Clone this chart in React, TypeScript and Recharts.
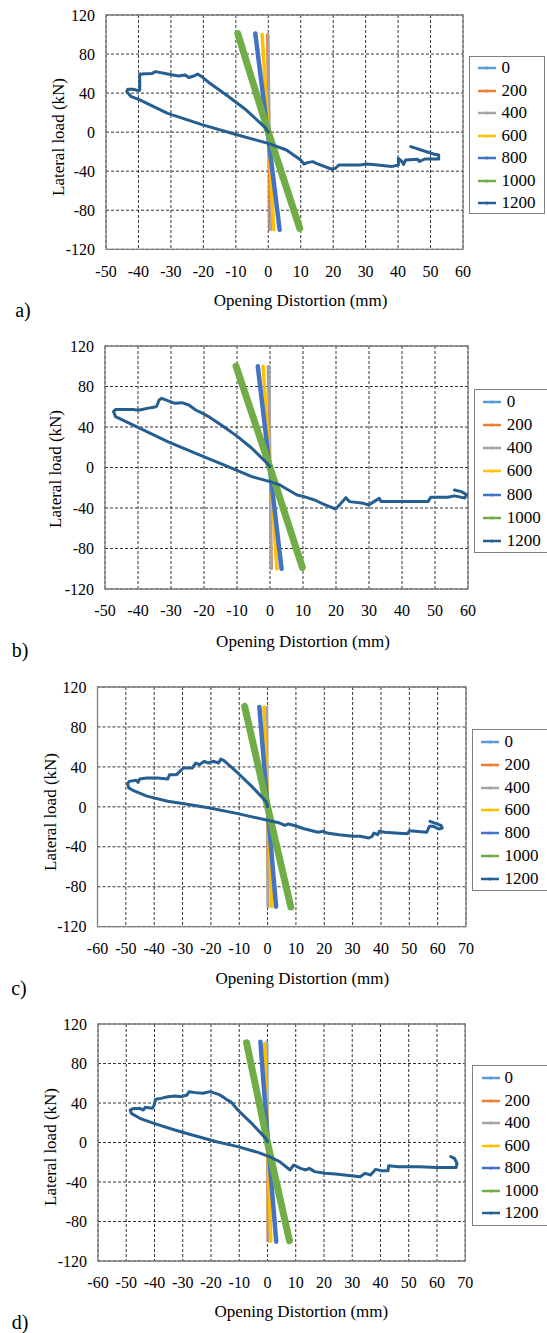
import React from 'react';
import { LineChart, Line, XAxis, YAxis, CartesianGrid, ReferenceArea } from 'recharts';

type P = [number, number];

const SERIES_NAMES = ['0', '200', '400', '600', '800', '1000', '1200'];
const SERIES_COLORS = ['#5B9BD5', '#ED7D31', '#A5A5A5', '#FFC000', '#4472C4', '#70AD47', '#255E91'];
const SERIES_WIDTHS = [2, 2, 2.5, 3.5, 4.5, 7, 3];

const X_TICKS_AB = [-50, -40, -30, -20, -10, 0, 10, 20, 30, 40, 50, 60];
const X_TICKS_CD = [-60, -50, -40, -30, -20, -10, 0, 10, 20, 30, 40, 50, 60, 70];
const Y_TICKS = [-120, -80, -40, 0, 40, 80, 120];

const A_0: P[] = [[0, 100], [0.1, 0], [0.2, -100]];
const A_200: P[] = [[-0.4, 100], [0, 0], [0.4, -100]];
const A_400: P[] = [[0, 100], [0.4, 0], [1.0, -100]];
const A_600: P[] = [[-1.9, 100], [0, 0], [1.7, -100]];
const A_800: P[] = [[-4, 101], [-0.2, 0], [3.5, -100]];
const A_1000: P[] = [[-9.4, 101], [0, 0], [9.7, -98.5]];
const A_1200: P[] = [
  [0, 0], [-1, 5], [-7.3, 24], [-12.7, 37.6], [-18, 50], [-20.2, 56.2], [-21.8, 59.6],
  [-22.9, 57.5], [-24.5, 56], [-25.6, 58.5], [-27.7, 57.5], [-31, 59.6], [-34.7, 62],
  [-35.8, 60.2], [-39, 59.6], [-39.6, 59.6], [-39.6, 43], [-40, 42.5], [-41.7, 44],
  [-43.3, 44], [-43.6, 41.5], [-42.2, 36.3], [-39.6, 33], [-31, 19.3], [-20.2, 7.4],
  [-9.4, -2.9], [0, -11.5], [5.6, -18.3], [10, -28.6], [11, -32.6], [12.1, -31.2],
  [13.7, -30.2], [14.8, -32], [19.6, -38], [20.7, -37], [21.8, -33.6], [25, -33.6],
  [28.3, -33.6], [30.4, -32.6], [33.7, -33.6], [38, -35.3], [40.1, -33.6], [40.1, -26.8],
  [41.2, -30.2], [41.7, -33], [42.3, -28.6], [46, -27.8], [46.6, -30], [48.2, -27.5],
  [52.5, -27.5], [52.5, -23.4], [50.9, -22.4], [43.9, -14.9],
];

const B_0: P[] = [[-0.2, 100], [0, 0], [0.2, -100]];
const B_200: P[] = [[-0.7, 100], [0, 0], [0.6, -100]];
const B_400: P[] = [[-0.3, 100], [0.1, 0], [0.4, -100]];
const B_600: P[] = [[-2.1, 100], [0, 0], [2.1, -100]];
const B_800: P[] = [[-3.7, 100], [-0.1, 0], [3.5, -100]];
const B_1000: P[] = [[-10.3, 100.2], [0, 0], [9.8, -98.6]];
const B_1200: P[] = [
  [0, 0.8], [-0.8, 4], [-5.5, 19], [-9.8, 30.5], [-14, 40.3], [-18.2, 49.5], [-20.4, 53.5],
  [-22.5, 56.8], [-24.6, 61.7], [-26.7, 64], [-28.8, 63.4], [-31, 66], [-32.8, 68.3],
  [-33.6, 66.7], [-34.3, 60.7], [-35.2, 59.4], [-37.3, 58.4], [-39.4, 56.8], [-40.5, 56.8],
  [-41.5, 57.4], [-43.6, 57.4], [-46.8, 57.4], [-47.4, 55.2], [-46.8, 50.2], [-39.4, 38.7],
  [-31, 25.5], [-22.5, 14], [-14, 2.5], [-5.5, -9], [0, -14], [3, -17.3], [8.2, -27.2],
  [10.3, -28.8], [13.5, -32.1], [16.7, -37], [19.9, -41], [21.5, -35.4], [23, -29.8],
  [24.1, -33.7], [28.3, -35.4], [29.9, -37], [31.5, -33.7], [33.1, -30.5], [33.7, -33.7],
  [37.9, -33.7], [43.2, -33.7], [47.9, -33.7], [48.7, -29.3], [53.8, -29.3], [55.9, -28],
  [59, -30.2], [59.6, -27], [58, -23.8], [55.9, -22.2],
];

const C_0: P[] = [[-0.3, 100], [-0.1, 0], [0, -100]];
const C_200: P[] = [[-0.5, 100], [-0.2, 0], [0.1, -100]];
const C_400: P[] = [[-0.2, 100], [0, 0], [0.3, -100]];
const C_600: P[] = [[-1.3, 100], [0.1, 0], [1.5, -100]];
const C_800: P[] = [[-2.9, 100], [0, 0], [3, -100]];
const C_1000: P[] = [[-8.1, 100.6], [0, 0], [8.2, -100.3]];
const C_1200: P[] = [
  [0, 0.2], [-0.4, 5], [-5.6, 20.5], [-10.5, 33.9], [-15.5, 46.6], [-16.5, 47.9],
  [-17.3, 43.9], [-19.2, 45.6], [-21, 43.9], [-22.3, 45.6], [-24.1, 42.2], [-25.3, 43.9],
  [-26.6, 38.9], [-29.7, 38.9], [-30.9, 35.6], [-32.1, 32.2], [-34.6, 32.2], [-35.2, 27.9],
  [-38.9, 28.9], [-42.6, 28.9], [-45.1, 27.9], [-45.7, 24.5], [-46.3, 26.6], [-48.8, 25.5],
  [-49.4, 23.3], [-49, 19], [-47.5, 16.6], [-42.6, 10.7], [-35.2, 5.6], [-27.8, 2.3],
  [-20.4, -1.1], [-10.5, -6.8], [0, -13.5], [4.3, -16.2], [6.1, -18.5], [7.3, -17.2],
  [9.8, -18.9], [12.9, -21.9], [17.8, -25.5], [19.7, -24.5], [20.9, -26.2], [25.2, -27.9],
  [30.2, -29.5], [32.6, -29.5], [35.7, -31.2], [36.9, -29.5], [37.5, -26.2], [38.8, -27.9],
  [39.4, -24.5], [41.3, -25.5], [45, -26.2], [49.3, -26.9], [50.1, -23.9], [56.1, -25.5],
  [57.1, -19.5], [58.5, -19.5], [60.4, -22.2], [61.6, -21.2], [61.2, -18.5], [57.3, -14.5],
];

const D_0: P[] = [[0, 100], [0, 0], [0.1, -100]];
const D_200: P[] = [[-0.3, 100], [-0.1, 0], [0, -100]];
const D_400: P[] = [[-0.3, 102], [0.1, 0], [0.6, -100]];
const D_600: P[] = [[-1, 100], [0.1, 0], [1.2, -100]];
const D_800: P[] = [[-2.5, 102], [0.2, 0], [3.1, -100.4]];
const D_1000: P[] = [[-7.4, 101], [0, 0], [7.8, -99.4]];
const D_1200: P[] = [
  [0, 0.8], [-0.6, 4.2], [-5.6, 19.4], [-10.5, 32.9], [-13, 41.4], [-14.2, 43], [-15.5, 45.7],
  [-17.3, 48.8], [-19.2, 50.5], [-20.4, 51.5], [-22.9, 49.8], [-25.4, 50.5], [-27.8, 51.5],
  [-28.5, 48.1], [-30.3, 46.4], [-32.8, 47.1], [-35.3, 46.4], [-37.7, 44.7], [-39.6, 43.7],
  [-40.2, 37], [-40.8, 34.6], [-43.3, 35.6], [-43.9, 32.9], [-45.2, 34.6], [-47.6, 34.3],
  [-48.6, 32.9], [-48.2, 29.5], [-45.2, 24.5], [-40.2, 19.4], [-32.8, 12.7], [-25.4, 6.6],
  [-18, 0.8], [-10.5, -4.2], [-3.1, -10.3], [0.6, -14.3], [4.3, -19.4], [8, -27.8],
  [9.3, -22.8], [11.7, -26.2], [13.6, -27.8], [14.8, -26.2], [16.7, -29.5], [20.4, -31.2],
  [24.1, -31.9], [30.3, -33.9], [32.8, -34.6], [34.6, -31.2], [36.5, -32.9], [38.3, -27.2],
  [40.2, -28.5], [42.7, -28.5], [42.9, -23.5], [46.4, -24.5], [53.8, -24.5], [60, -25.2],
  [66.8, -25.2], [67.1, -21.1], [66.2, -16], [64.9, -14.3],
];

const PANEL_LABELS = ['a)', 'b)', 'c)', 'd)'];
const X_TITLE = 'Opening Distortion (mm)';
const Y_TITLE = 'Lateral load (kN)';

type Layout = {
  plotLeft: number; plotRight: number; plotTop: number; plotBottom: number;
  xDomain: [number, number]; xTicks: number[];
  legendLeft: number; legendTop: number; legendBottom: number; legendRight: number;
  legendLineX: number; legendTextX: number; legendFirstY: number; legendStep: number;
  xTitleX: number; xTitleY: number; yTitleX: number; yTitleY: number;
  letterX: number; letterY: number;
};

const LAYOUTS: Layout[] = [
  {
    plotLeft: 106, plotRight: 463, plotTop: 15, plotBottom: 249.3,
    xDomain: [-50, 60], xTicks: X_TICKS_AB,
    legendLeft: 469, legendTop: 55.7, legendBottom: 214.3, legendRight: 545.3,
    legendLineX: 478, legendTextX: 501.6, legendFirstY: 68.3, legendStep: 22.5,
    xTitleX: 300.6, xTitleY: 301, yTitleX: 59.4, yTitleY: 136.7, letterX: 23, letterY: 310,
  },
  {
    plotLeft: 105, plotRight: 468, plotTop: 346, plotBottom: 589,
    xDomain: [-50, 60], xTicks: X_TICKS_AB,
    legendLeft: 473.6, legendTop: 389.3, legendBottom: 553.3, legendRight: 560,
    legendLineX: 483.4, legendTextX: 506.8, legendFirstY: 401.7, legendStep: 23.2,
    xTitleX: 303, xTitleY: 641.7, yTitleX: 56, yTitleY: 469.3, letterX: 20, letterY: 650,
  },
  {
    plotLeft: 97.5, plotRight: 466, plotTop: 687.3, plotBottom: 927,
    xDomain: [-60, 70], xTicks: X_TICKS_CD,
    legendLeft: 471.5, legendTop: 729.3, legendBottom: 891, legendRight: 560,
    legendLineX: 480.6, legendTextX: 504.4, legendFirstY: 741.7, legendStep: 22.9,
    xTitleX: 302.3, xTitleY: 979.3, yTitleX: 50.7, yTitleY: 811.7, letterX: 19, letterY: 988,
  },
  {
    plotLeft: 98, plotRight: 465.2, plotTop: 1024, plotBottom: 1261,
    xDomain: [-60, 70], xTicks: X_TICKS_CD,
    legendLeft: 472.2, legendTop: 1065.3, legendBottom: 1226, legendRight: 560,
    legendLineX: 481.6, legendTextX: 504.4, legendFirstY: 1078.3, legendStep: 22.5,
    xTitleX: 301.3, xTitleY: 1312.3, yTitleX: 50.7, yTitleY: 1146.7, letterX: 20, letterY: 1321.7,
  },
];

const PANEL_SERIES: P[][][] = [
  [A_0, A_200, A_400, A_600, A_800, A_1000, A_1200],
  [B_0, B_200, B_400, B_600, B_800, B_1000, B_1200],
  [C_0, C_200, C_400, C_600, C_800, C_1000, C_1200],
  [D_0, D_200, D_400, D_600, D_800, D_1000, D_1200],
];

const FONT = '"Liberation Serif", "Times New Roman", Tinos, serif';
const Y_AXIS_W = 60;
const X_AXIS_H = 40;
const TOP_PAD = 10;

const toRows = (pts: P[]) => pts.map(([x, y]) => ({ x, y }));

function Panel({ idx }: { idx: number }) {
  const L = LAYOUTS[idx];
  const series = PANEL_SERIES[idx];
  const chartTop = L.plotTop - TOP_PAD;
  const height = L.plotBottom - L.plotTop + TOP_PAD + X_AXIS_H;
  const margin = { top: TOP_PAD, bottom: 0, left: L.plotLeft - Y_AXIS_W, right: 547 - L.plotRight };
  const tickStyle = { fontFamily: FONT, fontSize: 16, fill: '#000' };
  return (
    <>
      <div style={{ position: 'absolute', left: 0, top: chartTop }}>
        <LineChart width={547} height={height} margin={margin}>
          <CartesianGrid stroke="#333" strokeDasharray="3 2" strokeWidth={1} />
          <XAxis
            type="number" dataKey="x" domain={L.xDomain} ticks={L.xTicks} allowDataOverflow
            height={X_AXIS_H} tickLine={false} axisLine={false} tickMargin={10} tick={tickStyle}
            interval={0}
          />
          <YAxis
            type="number" dataKey="y" domain={[-120, 120]} ticks={Y_TICKS} allowDataOverflow
            width={Y_AXIS_W} tickLine={false} axisLine={false} tickMargin={5} tick={tickStyle}
            interval={0}
          />
          <ReferenceArea
            x1={L.xDomain[0]} x2={L.xDomain[1]} y1={-120} y2={120}
            fill="none" fillOpacity={0} stroke="#7f7f7f" strokeWidth={1.3} ifOverflow="visible"
          />
          {series.map((pts, i) => (
            <Line
              key={SERIES_NAMES[i]}
              name={SERIES_NAMES[i]}
              data={toRows(pts)}
              dataKey="y"
              type="linear"
              stroke={SERIES_COLORS[i]}
              strokeWidth={SERIES_WIDTHS[i]}
              strokeLinejoin="round"
              strokeLinecap="round"
              dot={false}
              activeDot={false}
              isAnimationActive={false}
            />
          ))}
        </LineChart>
      </div>
      <div
        style={{
          position: 'absolute', left: L.legendLeft, top: L.legendTop,
          width: L.legendRight - L.legendLeft, height: L.legendBottom - L.legendTop,
          border: '1.3px solid #7f7f7f', boxSizing: 'border-box', background: '#fff',
        }}
      />
      {SERIES_NAMES.map((name, i) => {
        const cy = L.legendFirstY + i * L.legendStep;
        return (
          <React.Fragment key={name}>
            <svg
              width={20} height={8}
              style={{ position: 'absolute', left: L.legendLineX - 1, top: cy - 4 }}
            >
              <line x1={1} y1={4} x2={19} y2={4} stroke={SERIES_COLORS[i]} strokeWidth={2.5} />
              <circle cx={10} cy={4} r={1.6} fill={SERIES_COLORS[i]} />
            </svg>
            <div
              style={{
                position: 'absolute', left: L.legendTextX, top: cy - 10, height: 20,
                lineHeight: '20px', fontFamily: FONT, fontSize: 17, color: '#000', whiteSpace: 'nowrap',
              }}
            >
              {name}
            </div>
          </React.Fragment>
        );
      })}
      <div
        style={{
          position: 'absolute', left: L.xTitleX - 150, top: L.xTitleY - 11, width: 300, height: 22,
          lineHeight: '22px', textAlign: 'center', fontFamily: FONT, fontSize: 17, color: '#000',
        }}
      >
        {X_TITLE}
      </div>
      <div
        style={{
          position: 'absolute', left: L.yTitleX - 100, top: L.yTitleY - 11, width: 200, height: 22,
          lineHeight: '22px', textAlign: 'center', fontFamily: FONT, fontSize: 17, color: '#000',
          transform: 'rotate(-90deg)', transformOrigin: '100px 11px',
        }}
      >
        {Y_TITLE}
      </div>
      <div
        style={{
          position: 'absolute', left: L.letterX - 15, top: L.letterY - 12, width: 30, height: 24,
          lineHeight: '24px', textAlign: 'center', fontFamily: FONT, fontSize: 20, color: '#000',
        }}
      >
        {PANEL_LABELS[idx]}
      </div>
    </>
  );
}

export default function App() {
  return (
    <div
      style={{
        position: 'absolute', left: 0, top: 0, width: 547, height: 1333,
        overflow: 'hidden', background: '#fff',
      }}
    >
      {LAYOUTS.map((_, i) => (
        <Panel key={i} idx={i} />
      ))}
    </div>
  );
}
